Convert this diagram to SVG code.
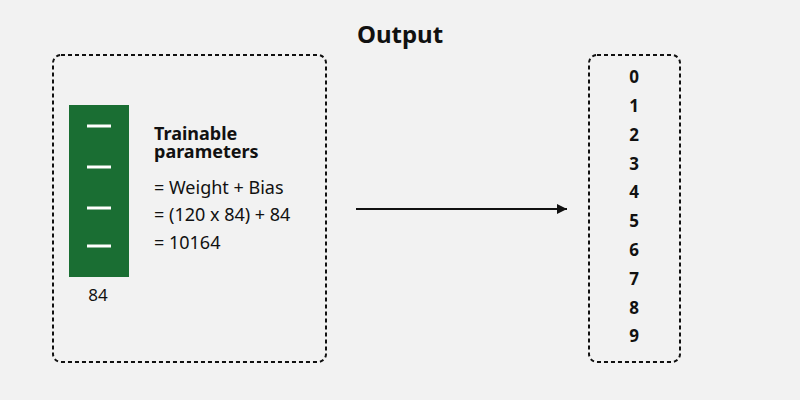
<svg xmlns="http://www.w3.org/2000/svg" width="800" height="400" viewBox="0 0 800 400">
<defs>
<style>
.t{font-family:"Noto Sans","Open Sans","DejaVu Sans",sans-serif;fill:#111}
.b{font-weight:bold}
.box{fill:none;stroke:#111;stroke-width:2;stroke-dasharray:4 3}
.dash{stroke:#fff;stroke-width:3}
.d{font-family:"Noto Sans","Open Sans","DejaVu Sans",sans-serif;font-weight:bold;font-size:17px;fill:#111;text-anchor:middle}
</style>
<marker id="ah" viewBox="0 0 10 10" refX="10" refY="5" markerWidth="10" markerHeight="10" markerUnits="userSpaceOnUse" orient="auto">
<path d="M0,0 L10,5 L0,10 z" fill="#111"/>
</marker>
</defs>
<rect width="800" height="400" fill="#f2f2f2"/>
<text class="t b" x="400" y="43" font-size="24" text-anchor="middle">Output</text>
<g id="layer">
<rect class="box" x="53" y="55" width="273" height="307" rx="8"/>
<rect x="69" y="105" width="60" height="172" fill="#1a6e33"/>
<line class="dash" x1="87" y1="126" x2="111" y2="126"/>
<line class="dash" x1="87" y1="167" x2="111" y2="167"/>
<line class="dash" x1="87" y1="208" x2="111" y2="208"/>
<line class="dash" x1="87" y1="246" x2="111" y2="246"/>
<text class="t" x="98" y="301" font-size="17" text-anchor="middle">84</text>
<text class="t b" x="154" y="140" font-size="18"><tspan x="154" y="140">Trainable</tspan><tspan x="154" y="158">parameters</tspan></text>
<text class="t" x="154" y="194" font-size="18">= Weight + Bias</text>
<text class="t" x="154" y="221" font-size="18">= (120 x 84) + 84</text>
<text class="t" x="154" y="249" font-size="18">= 10164</text>
</g>
<g id="connectors">
<line x1="356" y1="209" x2="567" y2="209" stroke="#111" stroke-width="2" marker-end="url(#ah)"/>
</g>
<g id="output">
<rect class="box" x="589" y="55" width="91" height="307" rx="8"/>
<text class="d" x="634" y="83">0</text>
<text class="d" x="634" y="112">1</text>
<text class="d" x="634" y="141">2</text>
<text class="d" x="634" y="170">3</text>
<text class="d" x="634" y="198">4</text>
<text class="d" x="634" y="227">5</text>
<text class="d" x="634" y="256">6</text>
<text class="d" x="634" y="285">7</text>
<text class="d" x="634" y="314">8</text>
<text class="d" x="634" y="342">9</text>
</g>
</svg>
